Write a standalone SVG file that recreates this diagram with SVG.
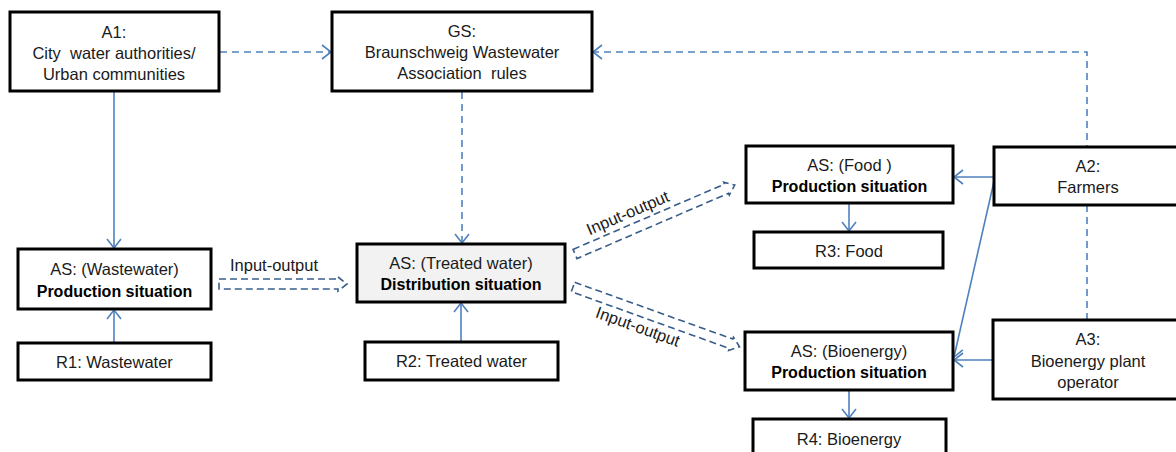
<svg xmlns="http://www.w3.org/2000/svg" width="1176" height="452" viewBox="0 0 1176 452">
<style>
.box{fill:#fff;stroke:#000;stroke-width:3}
.grey{fill:#f2f2f2}
text{font-family:"Liberation Sans",Arial,sans-serif;font-size:16.5px;fill:#1a1a1a;text-anchor:middle}
.b{font-weight:bold;font-size:16px;fill:#000}
.lbl{font-size:16.5px}
.solid{stroke:#4f81bd;stroke-width:1.6;fill:none}
.dash{stroke:#4f81bd;stroke-width:1.6;fill:none;stroke-dasharray:7 5}
.io{stroke:#385d8a;stroke-width:1.6;fill:#fff;stroke-dasharray:7 4}
</style>
<defs>
<marker id="ah" markerUnits="userSpaceOnUse" markerWidth="16" markerHeight="16" viewBox="0 0 16 16" refX="14" refY="8" orient="auto">
<path d="M5,1 L14,8 L5,15" fill="none" stroke="#4f81bd" stroke-width="1.6"/>
</marker>
</defs>
<g id="connectors">
<line class="solid" x1="114" y1="92" x2="114" y2="248" marker-end="url(#ah)"/>
<line class="dash" x1="220" y1="52" x2="331" y2="52" marker-end="url(#ah)"/>
<polyline class="dash" points="1087,320 1087,52 593,52" marker-end="url(#ah)"/>
<line class="dash" x1="462" y1="92" x2="462" y2="243" marker-end="url(#ah)"/>
<line class="solid" x1="114" y1="343" x2="114" y2="310" marker-end="url(#ah)"/>
<line class="solid" x1="461" y1="342" x2="461" y2="303" marker-end="url(#ah)"/>
<line class="solid" x1="995" y1="177" x2="954" y2="177" marker-end="url(#ah)"/>
<line class="solid" x1="995" y1="177" x2="954" y2="357" marker-end="url(#ah)"/>
<line class="solid" x1="993" y1="360" x2="954" y2="360" marker-end="url(#ah)"/>
<line class="solid" x1="849" y1="204" x2="849" y2="231" marker-end="url(#ah)"/>
<line class="solid" x1="849" y1="391" x2="849" y2="418" marker-end="url(#ah)"/>
<polygon class="io" transform="translate(219,284)" points="0,-5 119,-5 119,-7 128,0 119,7 119,5 0,5"/>
<polygon class="io" transform="translate(575,254) rotate(-23.33)" points="0,-5 165,-5 165,-7 174,0 165,7 165,5 0,5"/>
<polygon class="io" transform="translate(573,287) rotate(19.76)" points="0,-5 168,-5 168,-7 177,0 168,7 168,5 0,5"/>
<text class="lbl" x="274" y="271">Input-output</text>
<text class="lbl" transform="translate(630,218) rotate(-23.3)">Input-output</text>
<text class="lbl" transform="translate(636,332) rotate(19.8)">Input-output</text>
</g>
<g id="A1">
<rect class="box" x="10" y="12" width="209" height="79"/>
<text x="114" y="38">A1:</text>
<text x="114" y="59">City&#160; water authorities/</text>
<text x="114" y="80">Urban communities</text>
</g>
<g id="GS">
<rect class="box" x="332" y="12" width="260" height="79"/>
<text x="462" y="37">GS:</text>
<text x="462" y="58">Braunschweig Wastewater</text>
<text x="462" y="79">Association&#160; rules</text>
</g>
<g id="AS_wastewater">
<rect class="box" x="18" y="249" width="193" height="60"/>
<text x="114.5" y="275">AS: (Wastewater)</text>
<text class="b" x="114.5" y="297">Production situation</text>
</g>
<g id="R1">
<rect class="box" x="18" y="343" width="193" height="37"/>
<text x="114.5" y="368">R1: Wastewater</text>
</g>
<g id="AS_treated">
<rect class="box grey" x="357" y="244" width="208" height="58"/>
<text x="461" y="269">AS: (Treated water)</text>
<text class="b" x="461" y="290">Distribution situation</text>
</g>
<g id="R2">
<rect class="box" x="365" y="342" width="193" height="38"/>
<text x="461.5" y="367">R2: Treated water</text>
</g>
<g id="AS_food">
<rect class="box" x="746" y="146" width="207" height="57"/>
<text x="849.5" y="171">AS: (Food )</text>
<text class="b" x="849.5" y="192">Production situation</text>
</g>
<g id="R3">
<rect class="box" x="754" y="232" width="189" height="36"/>
<text x="849" y="257">R3: Food</text>
</g>
<g id="AS_bioenergy">
<rect class="box" x="745" y="332" width="208" height="58"/>
<text x="849" y="357">AS: (Bioenergy)</text>
<text class="b" x="849" y="378">Production situation</text>
</g>
<g id="R4">
<rect class="box" x="753" y="419" width="193" height="40"/>
<text x="849" y="445">R4: Bioenergy</text>
</g>
<g id="A2">
<rect class="box" x="994" y="147" width="190" height="58"/>
<text x="1088" y="172">A2:</text>
<text x="1088" y="193">Farmers</text>
</g>
<g id="A3">
<rect class="box" x="993" y="320" width="190" height="79"/>
<text x="1088" y="345">A3:</text>
<text x="1088" y="367">Bioenergy plant</text>
<text x="1088" y="388">operator</text>
</g>
</svg>
